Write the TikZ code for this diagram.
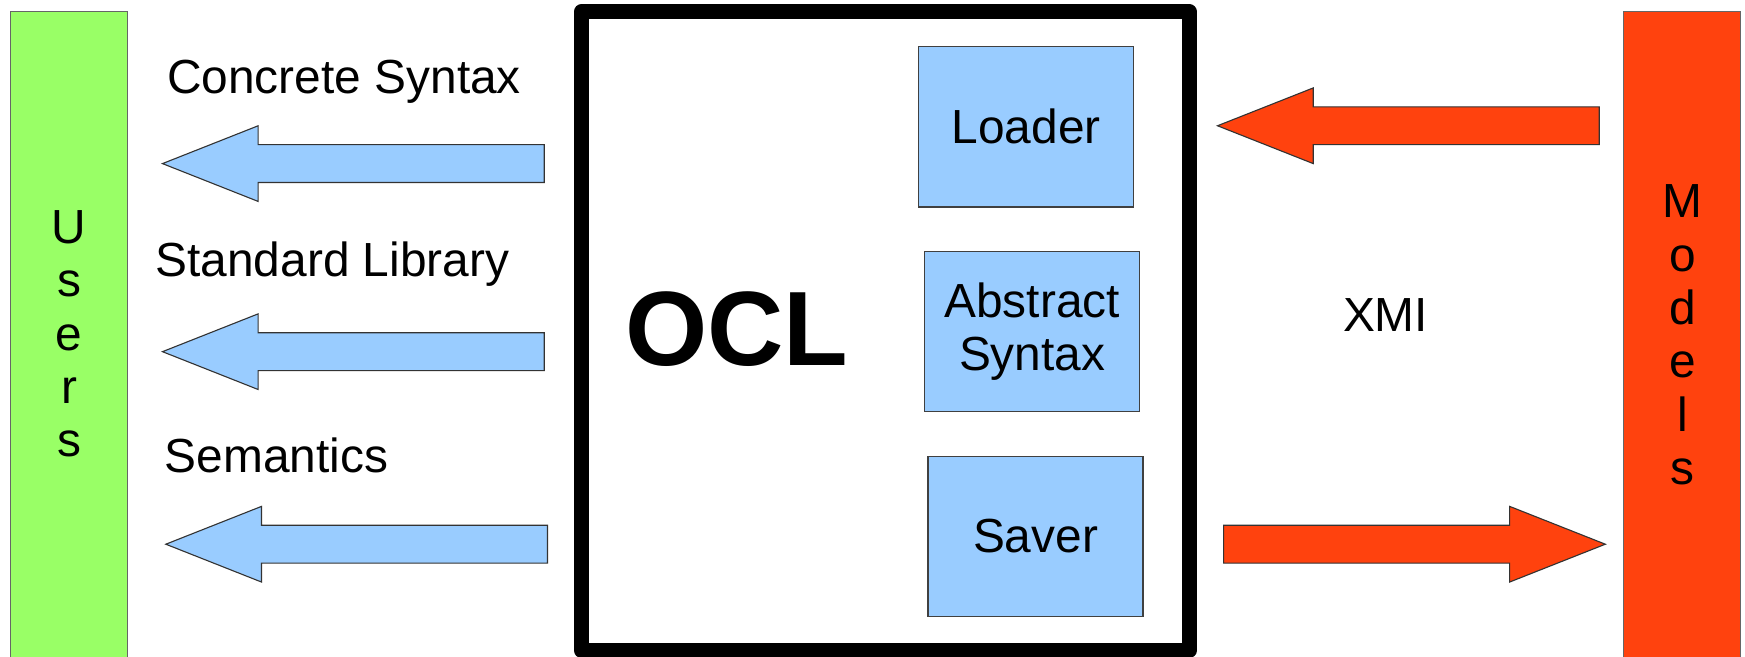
\documentclass[tikz,border=0pt]{standalone}
\usepackage{fontspec}
\setmainfont{Liberation Sans}
\usetikzlibrary{positioning}

\definecolor{usergreen}{HTML}{99FF66}
\definecolor{modelred}{HTML}{FF420E}
\definecolor{partblue}{HTML}{99CCFF}

% block arrows: style, tip, shaft length
\newcommand{\leftblock}[3]{\draw[#1] (#2) -- ++(86,-34) -- ++(0,17) -- ++(#3,0) -- ++(0,34) -- ++(-#3,0) -- ++(0,17) -- cycle;}
\newcommand{\rightblock}[3]{\draw[#1] (#2) -- ++(-86,-34) -- ++(0,17) -- ++(-#3,0) -- ++(0,34) -- ++(#3,0) -- ++(0,17) -- cycle;}

\begin{document}
\begin{tikzpicture}[x=1pt,y=1pt,yscale=-1,
  every node/.style={font=\fontsize{43}{48}\selectfont},
  sidebar/.style={draw=black!60, line width=1.2pt, minimum width=105, minimum height=600},
  partbox/.style={draw=black!75, fill=partblue, line width=1.2pt, minimum width=193, minimum height=144, align=center},
  flowblue/.style={draw=black!80, fill=partblue, line width=1pt},
  flowred/.style={draw=black!80, fill=modelred, line width=1pt}]
\clip (0,0) rectangle (1568,590);

% side bars
\node (users) [sidebar, fill=usergreen] at (62,310.5) {};
\node (users label) [align=center] at (62,300) {U\\s\\e\\r\\s};
\node (models) [sidebar, fill=modelred] at (1511.5,310.5) {};
\node (models label) [align=center] at (1512,301) {M\\o\\d\\e\\l\\s};

% OCL frame
\node (ocl) [draw, line width=13.5pt, line join=round, minimum width=546, minimum height=574] at (795.5,297.5) {};
\node (ocl label) [font=\fontsize{95}{100}\selectfont\bfseries] at (662,296) {OCL};

\node (loader) [partbox] at (922,114) {Loader};
\node (abstract) [partbox] at (927.5,298) {Abstract\\Syntax};
\node (saver) [partbox] at (930.5,482) {Saver};

% labels
\node (concrete) [anchor=base west, inner sep=0] at (150,84) {Concrete Syntax};
\node (stdlib) [anchor=base west, inner sep=0] at (139.5,248.5) {Standard Library};
\node (semantics) [anchor=base west, inner sep=0] at (148,425) {Semantics};
\node (xmi) at (1245,283) {XMI};

% arrows
\coordinate (concrete tip) at (146,147);
\coordinate (stdlib tip) at (146,316);
\coordinate (semantics tip) at (149,489);
\coordinate (load tip) at (1094,113);
\coordinate (save tip) at (1442.5,489);

\leftblock{flowblue}{concrete tip}{257}
\leftblock{flowblue}{stdlib tip}{257}
\leftblock{flowblue}{semantics tip}{257}
\leftblock{flowred}{load tip}{257}
\rightblock{flowred}{save tip}{257}

\end{tikzpicture}
\end{document}
